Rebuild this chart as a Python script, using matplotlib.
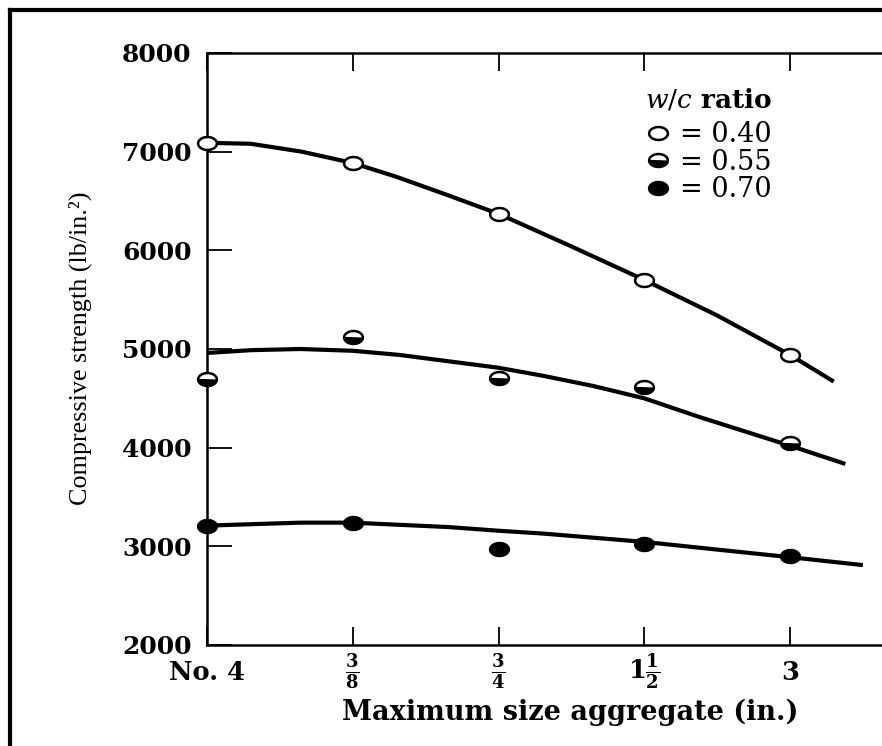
import matplotlib
matplotlib.use('Agg')
import matplotlib.pyplot as plt
from matplotlib.path import Path
from matplotlib.lines import Line2D
import numpy as np

# datos
sizes = ['No. 4', r'$\mathbf{\frac{3}{8}}$', r'$\mathbf{\frac{3}{4}}$',
         r'$\mathbf{1\frac{1}{2}}$', '3']
pos = [0, 1, 2, 3, 4]

wc040 = [7090, 6885, 6370, 5700, 4940]
wc055 = [4700, 5120, 4710, 4615, 4050]
wc070 = [3210, 3240, 2975, 3025, 2900]

# curvas ajustadas (trazadas a mano en el original)
curve040_x = [0, 0.3, 0.65, 1, 1.3, 1.65, 2, 2.5, 3, 3.5, 4, 4.3]
curve040_y = [7090, 7080, 7000, 6885, 6745, 6560, 6370, 6040, 5700, 5340, 4940, 4670]
curve055_x = [0, 0.3, 0.64, 1, 1.32, 1.66, 2, 2.3, 2.65, 3, 3.38, 4, 4.38]
curve055_y = [4960, 4988, 5000, 4982, 4940, 4875, 4810, 4730, 4625, 4500, 4310, 4020, 3835]
curve070_x = [0, 0.64, 1, 1.66, 2, 2.3, 3, 3.5, 4, 4.5]
curve070_y = [3210, 3240, 3240, 3195, 3158, 3130, 3045, 2967, 2890, 2810]

yticks = [2000, 3000, 4000, 5000, 6000, 7000, 8000]
wc_labels = ['= 0.40', '= 0.55', '= 0.70']

plt.rcParams['mathtext.fontset'] = 'dejavuserif'

# marcadores elipticos (la imagen original esta estirada)
t = np.linspace(0, 2 * np.pi, 61)
ellipse = Path(np.column_stack([1.45 * np.cos(t), np.sin(t)]), closed=True)
tb = np.linspace(np.pi, 2 * np.pi, 31)
half = Path(np.column_stack([1.45 * np.cos(tb), np.sin(tb)]), closed=True)

fig = plt.figure(figsize=(8.82, 7.46), dpi=100)
ax = fig.add_axes([207 / 882, 101 / 746, 675 / 882, 592 / 746])

lw = 3.0
ax.plot(curve040_x, curve040_y, color='black', lw=lw, solid_capstyle='butt',
        solid_joinstyle='round', zorder=2)
ax.plot(curve055_x, curve055_y, color='black', lw=lw, solid_capstyle='butt',
        solid_joinstyle='round', zorder=2)
ax.plot(curve070_x, curve070_y, color='black', lw=lw, solid_capstyle='butt',
        solid_joinstyle='round', zorder=2)

ms = 13.5
h1, = ax.plot(pos, wc040, ls='none', marker=ellipse, ms=ms, mfc='white', mec='black',
              mew=1.8, zorder=4, clip_on=False)
h2a, = ax.plot(pos, wc055, ls='none', marker=ellipse, ms=ms, mfc='white', mec='black',
               mew=1.8, zorder=4, clip_on=False)
h2b, = ax.plot(pos, wc055, ls='none', marker=half, ms=ms, mfc='black', mec='black',
               mew=1.0, zorder=5, clip_on=False)
h3, = ax.plot(pos, wc070, ls='none', marker=ellipse, ms=ms, mfc='black', mec='black',
              mew=1.8, zorder=4, clip_on=False)

ax.set_xlim(0, 675 / 145.75)
ax.set_ylim(2000, 8000)
ax.set_xticks(pos)
ax.set_xticklabels(sizes, fontfamily='DejaVu Serif', fontweight='bold', fontsize=18.5)
ax.set_yticks(yticks)
ax.set_yticklabels([str(v) for v in yticks], fontfamily='DejaVu Serif',
                   fontweight='bold', fontsize=18)

ax.spines['right'].set_visible(False)
for s in ['left', 'top', 'bottom']:
    ax.spines[s].set_linewidth(1.8)

ax.tick_params(axis='y', direction='in', length=18, width=1.3, pad=11,
               left=True, right=False)
ax.tick_params(axis='x', direction='in', length=13, width=1.3, pad=19.5,
               top=True, bottom=True, labeltop=False)
for lab in ax.get_xticklabels():
    lab.set_va('center')

ax.set_ylabel('Compressive strength (lb/in.²)', fontfamily='Liberation Serif',
              fontsize=18.8, va='center')
ax.yaxis.set_label_coords(-0.188, 0.502)
ax.set_xlabel('Maximum size aggregate (in.)', fontfamily='DejaVu Serif',
              fontweight='bold', fontsize=19.5, va='center')
ax.xaxis.set_label_coords(0.538, -0.113)

# leyenda
ax.text(0.649, 0.922, r'$\it{w/c}$ ratio', transform=ax.transAxes,
        fontfamily='DejaVu Serif', fontsize=19, fontweight='bold',
        ha='left', va='center')
ax.legend([h1, (h2a, h2b), h3], wc_labels, loc='upper left',
          bbox_to_anchor=(0.650, 0.885), frameon=False,
          prop={'family': 'DejaVu Serif', 'size': 19.5},
          handlelength=0.9, handletextpad=0.38,
          labelspacing=0.02, borderpad=0, borderaxespad=0)

# marco exterior de la imagen
fig.add_artist(Line2D([9.5 / 882, 9.5 / 882], [0, 1 - 9.5 / 746],
                      transform=fig.transFigure, color='black', lw=3))
fig.add_artist(Line2D([9.5 / 882, 1], [1 - 9.5 / 746, 1 - 9.5 / 746],
                      transform=fig.transFigure, color='black', lw=3))

fig.savefig('out.png', dpi=100)
plt.close()
